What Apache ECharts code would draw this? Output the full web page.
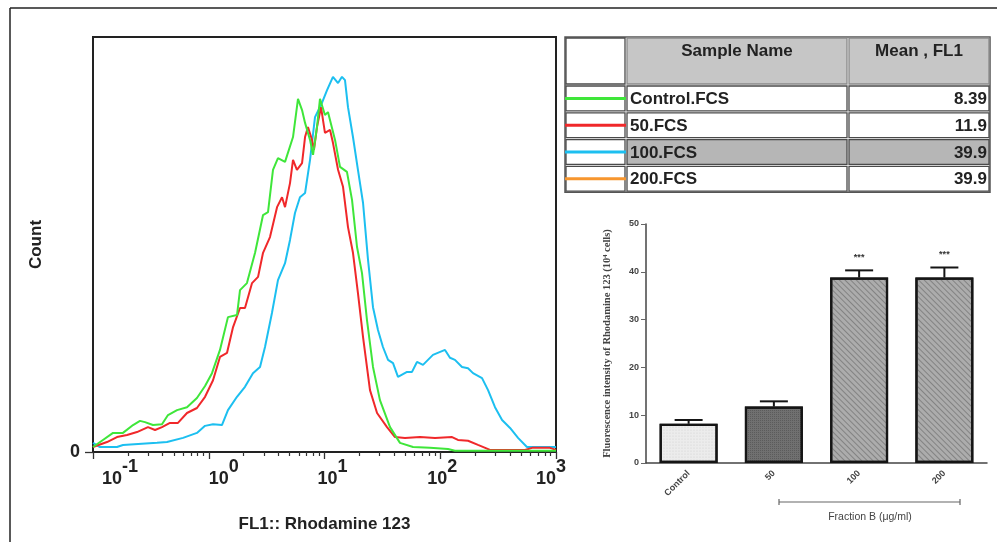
<!DOCTYPE html>
<html>
<head>
<meta charset="utf-8">
<script src="https://cdn.jsdelivr.net/npm/echarts@6.0.0/dist/echarts.min.js"></script>
<style>
  html, body { margin: 0; padding: 0; background: #fff; }
  #chart { width: 997px; height: 542px; }
</style>
</head>
<body>
<div id="chart"></div>
<script>
// histogram data: [log10 FL1, count]
var controlHist = [
  [-1.000, 1.2], [-0.914, 2.9], [-0.827, 4.6], [-0.741, 4.6], [-0.654, 6.5], [-0.594, 7.5],
  [-0.551, 7.2], [-0.482, 6.5], [-0.404, 6.7], [-0.352, 8.9], [-0.274, 10.1], [-0.188, 10.8],
  [-0.102, 13.0], [-0.032, 15.9], [0.028, 19.0], [0.097, 24.6], [0.166, 32.5], [0.244, 33.0],
  [0.270, 39.0], [0.330, 40.7], [0.400, 48.0], [0.469, 57.1], [0.512, 57.8], [0.555, 68.0],
  [0.598, 70.8], [0.659, 69.9], [0.728, 75.9], [0.771, 85.1], [0.806, 82.4], [0.832, 79.3],
  [0.875, 75.2], [0.901, 71.6], [0.935, 78.3], [0.961, 85.1], [1.004, 81.2], [1.030, 81.9],
  [1.091, 75.2], [1.134, 68.7], [1.194, 67.5], [1.238, 60.7], [1.281, 49.4], [1.324, 43.1],
  [1.367, 31.8], [1.419, 20.5], [1.479, 12.5], [1.566, 6.0], [1.652, 2.2], [1.765, 1.2],
  [1.911, 1.0], [2.067, 0.7], [2.127, 0.3], [3.000, 0.3]
];
var fcs50Hist = [
  [-1.000, 1.2], [-0.879, 2.4], [-0.793, 3.6], [-0.706, 4.1], [-0.620, 4.8], [-0.525, 6.0],
  [-0.464, 5.3], [-0.404, 6.0], [-0.335, 7.0], [-0.266, 7.0], [-0.188, 9.4], [-0.102, 10.6],
  [-0.032, 13.3], [0.037, 17.3], [0.097, 22.9], [0.158, 23.9], [0.210, 30.1], [0.270, 34.7],
  [0.313, 34.7], [0.374, 40.7], [0.426, 42.2], [0.469, 48.0], [0.529, 51.8], [0.590, 59.0],
  [0.633, 61.4], [0.659, 59.0], [0.702, 64.8], [0.728, 70.4], [0.762, 68.0], [0.806, 69.6],
  [0.832, 75.9], [0.857, 78.3], [0.892, 75.2], [0.909, 72.8], [0.935, 78.3], [0.970, 83.1],
  [1.004, 76.9], [1.048, 77.6], [1.073, 74.5], [1.117, 68.0], [1.160, 63.9], [1.203, 54.2],
  [1.246, 48.0], [1.289, 38.3], [1.333, 27.7], [1.393, 14.9], [1.454, 9.4], [1.540, 6.0],
  [1.609, 3.6], [1.695, 3.4], [1.825, 3.6], [1.955, 3.4], [2.102, 3.6], [2.153, 2.9],
  [2.240, 2.7], [2.326, 1.7], [2.430, 0.5], [2.732, 0.5], [2.793, 1.0], [2.948, 1.0], [3.000, 0.5]
];
var fcs100Hist = [
  [-1.000, 2.2], [-0.940, 1.2], [-0.793, 1.2], [-0.741, 1.7], [-0.447, 2.2], [-0.361, 2.4],
  [-0.222, 3.4], [-0.102, 4.6], [-0.032, 6.3], [0.037, 6.7], [0.114, 6.5], [0.166, 10.1],
  [0.244, 13.3], [0.313, 15.7], [0.382, 19.0], [0.443, 20.5], [0.486, 25.3], [0.546, 33.5],
  [0.598, 41.4], [0.659, 45.5], [0.702, 51.1], [0.745, 57.6], [0.788, 61.4], [0.832, 62.4],
  [0.875, 70.4], [0.918, 80.7], [0.978, 84.1], [1.022, 87.2], [1.073, 90.4], [1.117, 88.9],
  [1.151, 90.4], [1.177, 89.6], [1.203, 83.1], [1.246, 75.9], [1.289, 68.0], [1.333, 60.0],
  [1.376, 46.3], [1.419, 34.9], [1.462, 29.4], [1.505, 25.3], [1.549, 22.2], [1.592, 21.4],
  [1.635, 18.1], [1.713, 19.3], [1.756, 19.3], [1.799, 21.7], [1.851, 21.0], [1.937, 23.4],
  [2.041, 24.6], [2.084, 22.7], [2.127, 22.2], [2.188, 20.5], [2.240, 20.2], [2.283, 19.0],
  [2.361, 17.8], [2.413, 14.9], [2.473, 10.8], [2.534, 7.7], [2.603, 5.8], [2.672, 3.4],
  [2.749, 1.2], [3.000, 1.2]
];
var decadeExps = [-1, 0, 1, 2, 3];

// table
var sampleNames = ["Control.FCS", "50.FCS", "100.FCS", "200.FCS"];
var meanFL1 = ["8.39", "11.9", "39.9", "39.9"];
var sampleColors = ["#3fe63a", "#f0282a", "#1cbff0", "#f7962e"];

// bar chart
var barCategories = ["Control", "50", "100", "200"];
var barMeans = [8.2, 11.8, 38.8, 38.8];
var barUpper = [9.0, 12.9, 40.3, 40.9];
var sigLabels = ["", "", "***", "***"];

var chart = echarts.init(document.getElementById("chart"));
var FONT = "Liberation Sans";

// 10^n labels, shifted like the FlowJo export
var decadeShift = [27, 15, 8, 2, -5];
var richDecade = {};
decadeExps.forEach(function (e, i) {
  var s = decadeShift[i];
  richDecade["b" + i] = {
    fontSize: 18, fontWeight: "bold", fontFamily: FONT, color: "#222",
    verticalAlign: "bottom", padding: [0, 0, 0, Math.max(0, 2 * s)]
  };
  richDecade["e" + i] = {
    fontSize: 18, fontWeight: "bold", fontFamily: FONT, color: "#222",
    padding: [0, Math.max(0, -2 * s), 12, 0]
  };
});
var minorTicks = [];
for (var d = -1; d < 3; d++) {
  for (var k = 2; k <= 9; k++) minorTicks.push(d + Math.log10(k));
}

// bar fills
var barStyles = [
  { color: "#ececec", decal: { symbol: "circle", symbolSize: 0.6, dashArrayX: [2, 1], dashArrayY: [2, 1], color: "rgba(0,0,0,0.12)" } },
  { color: "#707070", decal: { symbol: "rect", symbolSize: 1, dashArrayX: [1, 1], dashArrayY: [1, 1], color: "rgba(0,0,0,0.18)" } },
  { color: "#acacac", decal: { symbol: "rect", symbolSize: 1, dashArrayX: [1, 0], dashArrayY: [1, 3], rotation: Math.PI / 4, color: "rgba(80,80,80,0.45)" } },
  { color: "#acacac", decal: { symbol: "rect", symbolSize: 1, dashArrayX: [1, 0], dashArrayY: [1, 3], rotation: Math.PI / 4, color: "rgba(80,80,80,0.45)" } }
];

// table graphics
var tableGraphics = [];
var colX = [565, 626, 848, 990];
var headTop = 37, headBot = 85, rowH = 26.8;
function cell(x1, y1, x2, y2, fill, stroke) {
  return {
    type: "rect",
    shape: { x: x1 + 1, y: y1 + 1, width: x2 - x1 - 2, height: y2 - y1 - 2 },
    style: { fill: fill, stroke: stroke || "#4a4a4a", lineWidth: 1.3 }
  };
}
tableGraphics.push({ type: "rect", shape: { x: colX[0], y: headTop, width: colX[3] - colX[0], height: headBot - headTop + rowH * 4 }, style: { fill: "#fff", stroke: "#555", lineWidth: 1.5 } });
tableGraphics.push(cell(colX[0], headTop, colX[1], headBot, "#fff"));
tableGraphics.push(cell(colX[1], headTop, colX[2], headBot, "#c6c6c6", "#8a8a8a"));
tableGraphics.push(cell(colX[2], headTop, colX[3], headBot, "#c6c6c6", "#8a8a8a"));
tableGraphics.push({ type: "text", style: { text: "Sample Name", x: (colX[1] + colX[2]) / 2, y: 51, align: "center", verticalAlign: "middle", fontSize: 17, fontWeight: "bold", fontFamily: FONT, fill: "#222" } });
tableGraphics.push({ type: "text", style: { text: "Mean , FL1", x: (colX[2] + colX[3]) / 2, y: 51, align: "center", verticalAlign: "middle", fontSize: 17, fontWeight: "bold", fontFamily: FONT, fill: "#222" } });
sampleNames.forEach(function (name, i) {
  var y1 = headBot + i * rowH, y2 = y1 + rowH, yc = (y1 + y2) / 2;
  var hl = i === 2 ? "#b6b6b6" : "#fff";
  tableGraphics.push(cell(colX[0], y1, colX[1], y2, "#fff"));
  tableGraphics.push(cell(colX[1], y1, colX[2], y2, hl));
  tableGraphics.push(cell(colX[2], y1, colX[3], y2, hl));
  tableGraphics.push({ type: "line", shape: { x1: colX[0], y1: yc, x2: colX[1], y2: yc }, style: { stroke: sampleColors[i], lineWidth: 3 } });
  tableGraphics.push({ type: "text", style: { text: name, x: colX[1] + 4, y: yc + 1, align: "left", verticalAlign: "middle", fontSize: 17, fontWeight: "bold", fontFamily: FONT, fill: "#222" } });
  tableGraphics.push({ type: "text", style: { text: meanFL1[i], x: colX[3] - 3, y: yc + 1, align: "right", verticalAlign: "middle", fontSize: 17, fontWeight: "bold", fontFamily: FONT, fill: "#222" } });
});

var option = {
  animation: false,
  backgroundColor: "#fff",
  grid: [
    { left: 93, top: 37, width: 463, height: 415, show: true, borderColor: "#222", borderWidth: 2, backgroundColor: "transparent" },
    { left: 646, top: 224, right: 10, height: 239 }
  ],
  xAxis: [
    {
      gridIndex: 0, type: "value", min: -1, max: 3,
      axisLine: { show: true, onZero: false, lineStyle: { color: "#222", width: 2 } },
      axisTick: { show: true, length: 7, customValues: decadeExps, lineStyle: { color: "#333", width: 1.3 } },
      axisLabel: {
        show: true, margin: 6, customValues: decadeExps, rich: richDecade,
        formatter: function (v) {
          var i = decadeExps.indexOf(v);
          return "{b" + i + "|10}{e" + i + "|" + v + "}";
        }
      },
      splitLine: { show: false },
      name: "FL1:: Rhodamine 123", nameLocation: "middle", nameGap: 64,
      nameTextStyle: { fontSize: 17, fontWeight: "bold", fontFamily: FONT, color: "#222" }
    },
    {
      gridIndex: 0, type: "value", min: -1, max: 3, position: "bottom",
      axisLine: { show: false, onZero: false },
      axisTick: { show: true, length: 4, customValues: minorTicks, lineStyle: { color: "#333", width: 1.2 } },
      axisLabel: { show: false },
      splitLine: { show: false }
    },
    {
      gridIndex: 1, type: "category", data: barCategories,
      axisLine: { lineStyle: { color: "#444", width: 1.5 } },
      axisTick: { alignWithLabel: true, length: 4, lineStyle: { color: "#666" } },
      axisLabel: { rotate: 45, fontSize: 9, fontWeight: "bold", fontFamily: FONT, color: "#444", margin: 9 }
    }
  ],
  yAxis: [
    {
      gridIndex: 0, type: "value", min: 0, max: 100,
      axisLine: { show: true, onZero: false, lineStyle: { color: "#222", width: 2 } },
      axisTick: { show: true, length: 8, customValues: [0], lineStyle: { color: "#333", width: 1.3 } },
      axisLabel: { show: true, customValues: [0], margin: 13, fontSize: 18, fontWeight: "bold", fontFamily: FONT, color: "#222" },
      splitLine: { show: false },
      name: "Count", nameLocation: "middle", nameRotate: 90, nameGap: 48,
      nameTextStyle: { fontSize: 17, fontWeight: "bold", fontFamily: FONT, color: "#222" }
    },
    {
      gridIndex: 1, type: "value", min: 0, max: 50, interval: 10,
      axisLine: { show: true, onZero: false, lineStyle: { color: "#444", width: 1.5 } },
      axisTick: { show: true, length: 5, lineStyle: { color: "#666" } },
      axisLabel: { fontSize: 9, fontWeight: "bold", fontFamily: FONT, color: "#444", margin: 7 },
      splitLine: { show: false },
      name: "Fluorescence intensity of Rhodamine 123 (10⁴ cells)", nameLocation: "middle", nameRotate: 90, nameGap: 33,
      nameTextStyle: { fontSize: 10.5, fontWeight: "bold", fontFamily: "Liberation Serif", color: "#444" }
    }
  ],
  series: [
    {
      name: "100.FCS", type: "line", xAxisIndex: 0, yAxisIndex: 0, showSymbol: false,
      data: fcs100Hist, lineStyle: { color: sampleColors[2], width: 2 }, itemStyle: { color: sampleColors[2] }
    },
    {
      name: "50.FCS", type: "line", xAxisIndex: 0, yAxisIndex: 0, showSymbol: false,
      data: fcs50Hist, lineStyle: { color: sampleColors[1], width: 2 }, itemStyle: { color: sampleColors[1] }
    },
    {
      name: "Control.FCS", type: "line", xAxisIndex: 0, yAxisIndex: 0, showSymbol: false,
      data: controlHist, lineStyle: { color: sampleColors[0], width: 2 }, itemStyle: { color: sampleColors[0] }
    },
    {
      type: "bar", xAxisIndex: 2, yAxisIndex: 1, barWidth: 58,
      data: barMeans.map(function (v, i) {
        return {
          value: v,
          itemStyle: { color: barStyles[i].color, decal: barStyles[i].decal, borderColor: "#151515", borderWidth: 2.2 }
        };
      })
    },
    {
      type: "custom", xAxisIndex: 2, yAxisIndex: 1, z: 5,
      data: barMeans.map(function (v, i) { return [i, v, barUpper[i]]; }),
      renderItem: function (params, api) {
        var top = api.coord([api.value(0), api.value(1)]);
        var cap = api.coord([api.value(0), api.value(2)]);
        var w = 14;
        var kids = [
          { type: "line", shape: { x1: top[0], y1: top[1], x2: cap[0], y2: cap[1] }, style: { stroke: "#151515", lineWidth: 2 } },
          { type: "line", shape: { x1: cap[0] - w, y1: cap[1], x2: cap[0] + w, y2: cap[1] }, style: { stroke: "#151515", lineWidth: 2 } }
        ];
        var sig = sigLabels[params.dataIndex];
        if (sig) {
          kids.push({ type: "text", style: { text: sig, x: cap[0], y: cap[1] - 13, align: "center", verticalAlign: "middle", fontSize: 9, fontWeight: "bold", fontFamily: FONT, fill: "#333" } });
        }
        return { type: "group", children: kids };
      }
    }
  ],
  graphic: [
    { type: "line", shape: { x1: 10, y1: 8, x2: 997, y2: 8 }, style: { stroke: "#222", lineWidth: 1.5 } },
    { type: "line", shape: { x1: 10, y1: 8, x2: 10, y2: 542 }, style: { stroke: "#222", lineWidth: 1.5 } },
    { type: "group", children: tableGraphics },
    { type: "line", shape: { x1: 779, y1: 502, x2: 960, y2: 502 }, style: { stroke: "#666", lineWidth: 1.2 } },
    { type: "line", shape: { x1: 779, y1: 499, x2: 779, y2: 505 }, style: { stroke: "#666", lineWidth: 1.2 } },
    { type: "line", shape: { x1: 960, y1: 499, x2: 960, y2: 505 }, style: { stroke: "#666", lineWidth: 1.2 } },
    { type: "text", style: { text: "Fraction B (μg/ml)", x: 870, y: 517, align: "center", verticalAlign: "middle", fontSize: 10.5, fontFamily: FONT, fill: "#444" } }
  ]
};
chart.setOption(option);
</script>
</body>
</html>
